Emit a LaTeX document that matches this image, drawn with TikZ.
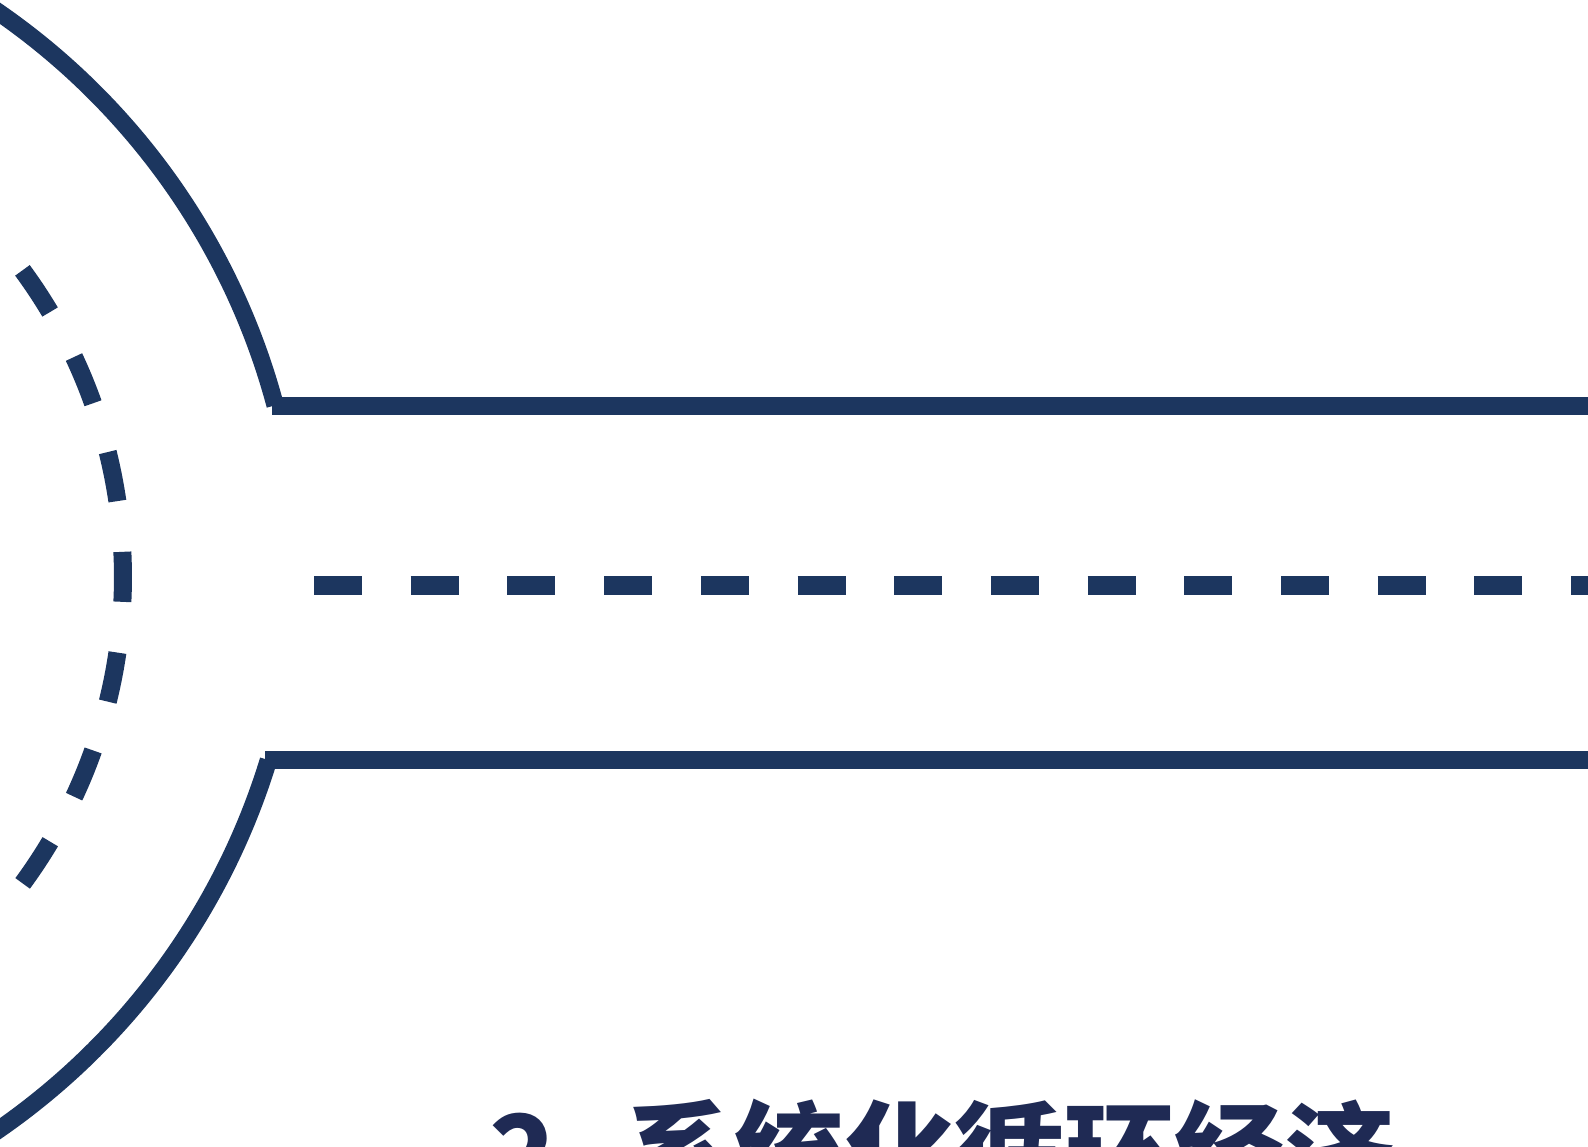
\documentclass[tikz,border=0pt]{standalone}
\usepackage{fontspec}
\newfontfamily\cjkfont{Noto Sans CJK SC}
\usetikzlibrary{positioning}
\definecolor{ringnavy}{HTML}{1C365F}
\definecolor{titlenavy}{HTML}{1F2A54}

\begin{document}
\begin{tikzpicture}[
    x=0.5pt, y=-0.5pt,
    ring/.style={draw=ringnavy, line width=8.75pt},
    track/.style={draw=ringnavy, line width=9pt},
    dashtrack/.style={draw=ringnavy, line width=9.5pt, dash pattern=on 24pt off 24.35pt},
    dashring/.style={draw=ringnavy, line width=9pt, dash pattern=on 25pt off 25.5pt},
    title/.style={font=\cjkfont\bfseries\fontsize{55}{66}\selectfont, text=titlenavy, inner sep=0pt}
]
    \useasboundingbox (0,0) rectangle (1588,1146);

    % Arc centres (left of the page)
    \coordinate (upper centre) at (-399,586);
    \coordinate (lower centre) at (-399,556);
    \coordinate (inner centre) at (-395,577);

    % Outer ring, upper and lower part
    \draw[ring] (upper centre) ++(-62:698) arc[start angle=-62, end angle=-15, radius=698];
    \draw[ring] (lower centre) ++(17:698) arc[start angle=17, end angle=62, radius=698];

    % Inner dashed ring
    \draw[dashring] (inner centre) ++(-36.3:518) arc[start angle=-36.3, end angle=36.3, radius=518];

    % Tracks to the right
    \coordinate (upper start) at (272,406);
    \coordinate (upper end) at (1600,406);
    \coordinate (middle start) at (314,585.5);
    \coordinate (middle end) at (1600,585.5);
    \coordinate (lower start) at (265,760);
    \coordinate (lower end) at (1600,760);
    \draw[track] (upper start) -- (upper end);
    \draw[dashtrack] (middle start) -- (middle end);
    \draw[track] (lower start) -- (lower end);

    % Heading (cut by the page edge)
    \node[title, anchor=base west] (heading) at (489,1194) {2、\kern-21pt 系统化循环经济};
\end{tikzpicture}
\end{document}
